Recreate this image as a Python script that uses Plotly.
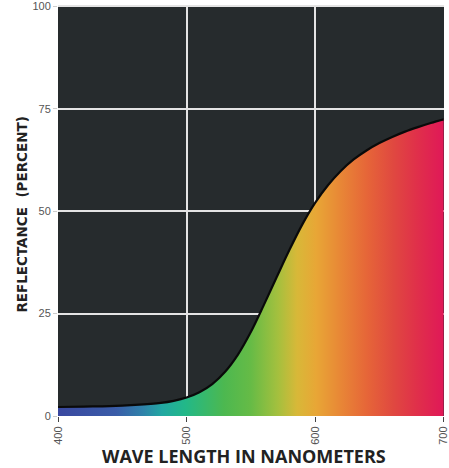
import plotly.graph_objects as go

wavelength = [400, 420, 440, 460, 480, 490, 500, 510, 520, 530, 540, 550, 560, 570,
              580, 590, 600, 610, 620, 630, 640, 650, 660, 670, 680, 690, 700]
reflectance = [2.2, 2.3, 2.4, 2.7, 3.2, 3.7, 4.5, 5.8, 7.8, 10.8, 15.0, 20.5, 27.0, 33.8,
               40.5, 46.7, 52.0, 56.3, 59.8, 62.6, 64.8, 66.6, 68.1, 69.4, 70.5, 71.5, 72.4]

x_ticks = [400, 500, 600, 700]
y_ticks = [0, 25, 50, 75, 100]
x_title = "WAVE LENGTH IN NANOMETERS"
y_title = "REFLECTANCE  (PERCENT)"

spectrum = [
    [0.00, "#3a48a0"],
    [0.15, "#3a5ca8"],
    [0.22, "#2f82aa"],
    [0.27, "#22a8a2"],
    [0.33, "#22b888"],
    [0.43, "#4cb850"],
    [0.50, "#66bb46"],
    [0.57, "#a4c03e"],
    [0.62, "#d8b838"],
    [0.67, "#e8a636"],
    [0.73, "#e88836"],
    [0.80, "#e66638"],
    [0.87, "#e04840"],
    [0.93, "#e0304a"],
    [1.00, "#e01858"],
]

fig = go.Figure()
fig.add_trace(go.Scatter(
    x=wavelength, y=reflectance, mode="lines",
    line=dict(color="#0a0a0a", width=2.2, shape="spline", smoothing=1.0),
    fill="tozeroy",
    fillgradient=dict(type="horizontal", colorscale=spectrum, start=400, stop=700),
    hoverinfo="skip", showlegend=False,
))

tickfont = dict(family="Liberation Sans Narrow, Liberation Sans, sans-serif", size=11, color="#555")

fig.update_layout(
    width=449, height=468,
    margin=dict(l=58, r=5, t=5, b=52),
    paper_bgcolor="white",
    plot_bgcolor="#262b2d",
    xaxis=dict(
        range=[400, 700.3], tickvals=x_ticks, ticktext=[str(v) for v in x_ticks],
        tickangle=-90, showgrid=True, gridcolor="#e4e4e4", gridwidth=2,
        zeroline=False, ticks="outside", ticklen=5, tickcolor="#444",
        tickfont=tickfont, automargin=False, fixedrange=True,
        ticklabeloverflow="allow",
    ),
    yaxis=dict(
        range=[0, 100.3], tickvals=y_ticks, ticktext=[str(v) for v in y_ticks],
        showgrid=True, gridcolor="#e4e4e4", gridwidth=2,
        zeroline=False, ticks="outside", ticklen=4, tickcolor="#ccc",
        tickfont=tickfont, automargin=False, fixedrange=True,
        ticklabeloverflow="allow",
    ),
    annotations=[
        dict(text=x_title, xref="paper", yref="paper", x=0.482, y=0, yshift=-40,
             xanchor="center", yanchor="middle", showarrow=False,
             font=dict(family="Open Sans, sans-serif", size=18, color="#222", weight="bold")),
        dict(text=y_title, xref="paper", yref="paper", x=0, y=0.49, xshift=-36,
             xanchor="center", yanchor="middle", textangle=-90, showarrow=False,
             font=dict(family="DejaVu Sans, sans-serif", size=13.5, color="#222", weight="bold")),
    ],
)

fig.write_html("out.html", config={"displayModeBar": False},
               post_script="document.body.style.margin='0';")
